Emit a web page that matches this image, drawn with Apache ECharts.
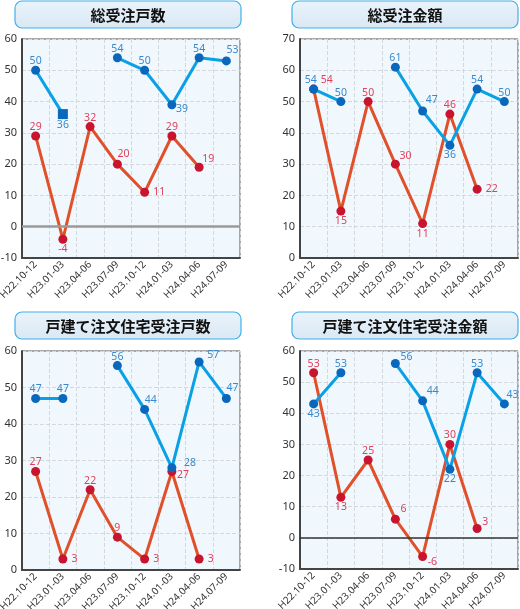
<!DOCTYPE html>
<html><head><meta charset="utf-8">
<script src="https://cdn.jsdelivr.net/npm/echarts@6/dist/echarts.min.js"></script>
<style>html,body{margin:0;padding:0;background:#fff}#c{width:520px;height:609px}</style>
</head><body><div id="c"></div>
<script>
var categories = ['H22.10-12','H23.01-03','H23.04-06','H23.07-09','H23.10-12','H24.01-03','H24.04-06','H24.07-09'];
var titles = ['総受注戸数','総受注金額','戸建て注文住宅受注戸数','戸建て注文住宅受注金額'];
var blue1 = [50, 36, null, 54, 50, 39, 54, 53];
var red1  = [29, -4, 32, 20, 11, 29, 19, null];
var blue2 = [54, 50, null, 61, 47, 36, 54, 50];
var red2  = [54, 15, 50, 30, 11, 46, 22, null];
var blue3 = [47, 47, null, 56, 44, 28, 57, 47];
var red3  = [27, 3, 22, 9, 3, 27, 3, null];
var blue4 = [43, 53, null, 56, 44, 22, 53, 43];
var red4  = [53, 13, 25, 6, -6, 30, 3, null];
var yMin = [-10, 0, 0, -10];
var yMax = [60, 70, 60, 60];

// label placement (style only): 'top' / 'bottom' / 'right' or [dx,dy] offset of the label box from the point
var T='top',B='bottom',R='right';
var bluePos = [
  [T,B,T,T,T,[4,-1],T,[0,-16]],
  [[-9,-15],T,T,T,[3,-16],B,T,T],
  [T,T,T,T,[0,-15],[12,-10],[8,-12],[0,-16]],
  [B,T,T,[5,-12],[4,-15],B,T,[2,-14]]];
var redPos  = [
  [T,B,T,[0,-16],R,T,[3,-14],T],
  [[7,-15],B,T,[4,-14],B,T,R,T],
  [T,R,T,T,R,[5,-2],R,T],
  [T,B,T,[5,-16],[5,0],T,[5,-12],T]];
var blues=[blue1,blue2,blue3,blue4], reds=[red1,red2,red3,red4];
var zeroStyle=[{color:'#9a9a9a',width:2.5},null,null,{color:'#333',width:1.5}];

var grids=[{left:22,top:39,width:218,height:219},{left:300,top:39,width:218,height:219},
           {left:22,top:351,width:218,height:219},{left:300,top:351,width:218,height:218}];
function lbl(p,color,half){
  var o={show:true,color:color,fontSize:10.5,fontFamily:'Noto Sans, sans-serif',formatter:'{c}'};
  if(Array.isArray(p)){o.position=[p[0]+half,p[1]+half];}
  else {o.position=p;o.distance=(p==='top'?-1:(p==='bottom'?0:4));}
  return o;
}
function mk(vals,pos,col,special){
  return vals.map(function(v,i){
    var sq=(special===i);
    var d={value:v,label:lbl(pos[i],col,sq?5:4.5)};
    if(sq){d.symbol='rect';d.symbolSize=10;}
    return d;
  });
}
var xAxes=[],yAxes=[],series=[],graphic=[];
for(var k=0;k<4;k++){
  xAxes.push({gridIndex:k,type:'category',data:categories,boundaryGap:true,
    axisLine:{onZero:false,lineStyle:{color:'#444',width:2}},axisTick:{show:false},
    axisLabel:{rotate:45,interval:0,fontSize:10,color:'#333',margin:5,fontFamily:'Noto Sans, sans-serif'},
    splitLine:{show:true,interval:0,lineStyle:{color:'#d2d8dc',type:'dashed'}}});
  yAxes.push({gridIndex:k,type:'value',min:yMin[k],max:yMax[k],interval:10,
    axisLine:{show:true,lineStyle:{color:'#444',width:2}},axisTick:{show:false},
    axisLabel:{fontSize:11,color:'#333',margin:5,fontFamily:'Noto Sans, sans-serif'},
    splitLine:{lineStyle:{color:'#d2d8dc',type:'dashed'}}});
  series.push({type:'line',xAxisIndex:k,yAxisIndex:k,data:mk(reds[k],redPos[k],'#e0405a',-1),
    connectNulls:false,symbol:'circle',symbolSize:9,
    lineStyle:{color:'#e0502a',width:3},itemStyle:{color:'#c8142e'},z:2,
    markLine:zeroStyle[k]?{silent:true,symbol:'none',label:{show:false},
      lineStyle:{color:zeroStyle[k].color,width:zeroStyle[k].width,type:'solid'},data:[{yAxis:0}]}:undefined});
  series.push({type:'line',xAxisIndex:k,yAxisIndex:k,data:mk(blues[k],bluePos[k],'#3a88cc',k===0?1:-1),
    connectNulls:false,symbol:'circle',symbolSize:9,
    lineStyle:{color:'#0aa0e6',width:3},itemStyle:{color:'#0a68bc'},z:3});
}
var tb=[{x:15,y:1},{x:292,y:1},{x:15,y:312},{x:292,y:312}];
for(var k=0;k<4;k++){
  graphic.push({type:'rect',x:tb[k].x,y:tb[k].y,shape:{x:0,y:0,width:226,height:27,r:7},
     style:{fill:{type:'linear',x:0,y:0,x2:0,y2:1,colorStops:[{offset:0,color:'#eaf3fb'},{offset:1,color:'#d9e8f4'}]},
     stroke:'#40b0ec',lineWidth:1.2},z:10});
  graphic.push({type:'text',x:tb[k].x+113,y:tb[k].y+14,z:11,
     style:{text:titles[k],fill:'#111',font:'bold 15px "Noto Sans CJK JP", sans-serif',textAlign:'center',textVerticalAlign:'middle'}});
}
var chart=echarts.init(document.getElementById('c'));
chart.setOption({animation:false,
  grid:grids.map(function(g){return Object.assign({show:true,backgroundColor:'#f0f8fd',borderColor:'#555',borderWidth:1,outerBoundsMode:'none',containLabel:false},g);}),
  xAxis:xAxes,yAxis:yAxes,series:series,graphic:graphic});
</script></body></html>
